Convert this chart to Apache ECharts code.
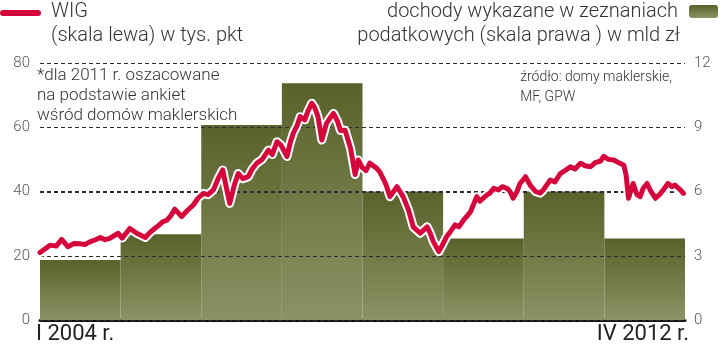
<!DOCTYPE html>
<html>
<head>
<meta charset="utf-8">
<script src="https://cdn.jsdelivr.net/npm/echarts@6/dist/echarts.min.js"></script>
<style>
  html, body { margin: 0; padding: 0; background: #fff; }
  #chart { width: 720px; height: 351px; }
</style>
</head>
<body>
<div id="chart"></div>
<script>
// dochody wykazane w zeznaniach podatkowych, mld zł (2011 szacunek)
const years = ['2004', '2005', '2006', '2007', '2008', '2009', '2010', '2011']
const incomeValues = [2.8, 4.0, 9.1, 11.05, 6.0, 3.8, 6.0, 3.8]

// WIG, tys. pkt (czas w latach dziesiętnych)
const wigTime = [
  2004.00, 2004.13, 2004.21, 2004.28, 2004.36, 2004.44, 2004.52, 2004.58, 2004.65, 2004.71,
  2004.78, 2004.84, 2004.90, 2005.01, 2005.06, 2005.16, 2005.25, 2005.36, 2005.43, 2005.51,
  2005.58, 2005.64, 2005.69, 2005.74, 2005.83, 2005.90, 2005.98, 2006.04, 2006.11, 2006.17,
  2006.24, 2006.30, 2006.36, 2006.40, 2006.45, 2006.51, 2006.56, 2006.62, 2006.69, 2006.74,
  2006.80, 2006.87, 2006.95, 2007.00, 2007.06, 2007.11, 2007.19, 2007.23, 2007.27, 2007.32,
  2007.36, 2007.42, 2007.46, 2007.51, 2007.55, 2007.59, 2007.64, 2007.70, 2007.75, 2007.79,
  2007.84, 2007.88, 2007.94, 2008.01, 2008.07, 2008.11, 2008.16, 2008.21, 2008.26, 2008.35,
  2008.39, 2008.43, 2008.47, 2008.52, 2008.61, 2008.65, 2008.69, 2008.76, 2008.82, 2008.91,
  2009.00, 2009.04, 2009.08, 2009.15, 2009.19, 2009.25, 2009.30, 2009.36, 2009.41, 2009.47,
  2009.52, 2009.56, 2009.64, 2009.68, 2009.77, 2009.81, 2009.86, 2009.92, 2009.97, 2010.03,
  2010.07, 2010.11, 2010.16, 2010.20, 2010.27, 2010.33, 2010.40, 2010.46, 2010.50, 2010.59,
  2010.65, 2010.72, 2010.78, 2010.85, 2010.91, 2010.98, 2011.04, 2011.11, 2011.17, 2011.24,
  2011.28, 2011.34, 2011.41, 2011.47, 2011.54, 2011.57, 2011.60, 2011.66, 2011.71, 2011.75,
  2011.79, 2011.84, 2011.89, 2011.95, 2012.00, 2012.05, 2012.11, 2012.16, 2012.20, 2012.27,
  2012.31
]
const wigValues = [
  21.0, 23.3, 23.0, 25.1, 22.8, 23.8, 23.7, 23.5, 24.4, 24.9,
  25.7, 25.0, 25.4, 27.0, 25.5, 28.5, 27.0, 25.7, 27.5, 29.0,
  30.5, 31.1, 32.5, 34.5, 32.2, 34.0, 35.8, 37.9, 39.4, 39.0,
  40.5, 44.0, 46.7, 42.0, 36.3, 42.0, 45.6, 44.0, 44.6, 47.0,
  48.8, 50.0, 52.9, 51.5, 55.5, 54.5, 50.9, 55.0, 58.1, 60.5,
  63.3, 62.3, 65.0, 67.5, 66.0, 63.3, 56.0, 61.2, 63.0, 64.3,
  62.0, 59.0, 59.1, 53.5, 45.3, 49.8, 47.5, 46.5, 48.8, 47.2,
  46.0, 44.1, 42.0, 38.4, 41.5, 40.0, 38.4, 34.2, 29.0, 27.0,
  29.0, 27.0, 24.4, 21.3, 23.0, 25.9, 27.5, 29.6, 29.0, 31.1,
  32.5, 33.7, 38.4, 37.0, 38.9, 39.5, 41.0, 40.5, 41.5, 41.0,
  40.0, 37.9, 40.0, 42.5, 44.6, 42.0, 40.0, 39.5, 40.5, 43.6,
  43.0, 45.6, 46.5, 47.7, 47.0, 48.8, 48.0, 47.7, 49.0, 49.5,
  50.9, 50.0, 49.8, 49.0, 48.2, 45.0, 37.9, 42.5, 39.0, 38.4,
  41.0, 42.5, 40.0, 37.9, 39.0, 40.5, 42.5, 41.5, 42.0, 40.5,
  39.4
]

const leftTicks = [0, 20, 40, 60, 80]
const rightTicks = [0, 3, 6, 9, 12]
const timeMin = 2004
const timeMax = 2012.33

const FONT = 'Roboto'
const RED = '#d4063c'
const GRID = '#2e2e2e'
const wigData = wigTime.map((t, i) => [t, wigValues[i]])

const barGradient = new echarts.graphic.LinearGradient(0, 0, 0, 1, [
  { offset: 0, color: '#58622a' },
  { offset: 1, color: '#8b9365' }
])

const textGraphics = [
  // legenda WIG
  {
    type: 'line',
    shape: { x1: 3, y1: 13, x2: 38, y2: 13 },
    style: { stroke: RED, lineWidth: 6, lineCap: 'round' }
  },
  {
    type: 'text', left: 51, top: 2,
    style: { text: 'WIG', font: `300 20px ${FONT}`, fill: '#333' }
  },
  {
    type: 'text', left: 51, top: 26,
    style: { text: '(skala lewa) w tys. pkt', font: `300 20px ${FONT}`, fill: '#333' }
  },
  // legenda dochody
  {
    type: 'text', right: 42, top: 2,
    style: { text: 'dochody wykazane w zeznaniach', font: `300 20px ${FONT}`, fill: '#333', align: 'right' }
  },
  {
    type: 'text', right: 40, top: 26,
    style: { text: 'podatkowych (skala prawa ) w mld zł', font: `300 20px ${FONT}`, fill: '#333', align: 'right' }
  },
  {
    type: 'rect',
    shape: { x: 689, y: 5, width: 29, height: 13, r: 3 },
    style: { fill: barGradient }
  },
  // przypisy
  {
    type: 'text', left: 37, top: 66,
    style: {
      text: '*dla 2011 r. oszacowane\nna podstawie ankiet\nwśród domów maklerskich',
      font: `300 17px ${FONT}`, fill: '#333', lineHeight: 20
    }
  },
  {
    type: 'text', right: 48, top: 67,
    style: {
      text: 'źródło: domy maklerskie,\nMF, GPW',
      font: `300 14px ${FONT}`, fill: '#333', lineHeight: 20, align: 'right'
    }
  },
  // oś czasu
  {
    type: 'text', left: 36, top: 323,
    style: { text: 'I 2004 r.', font: `400 22px ${FONT}`, fill: '#222' }
  },
  {
    type: 'text', right: 31, top: 323,
    style: { text: 'IV 2012 r.', font: `400 22px ${FONT}`, fill: '#222', align: 'right' }
  }
]

const chart = echarts.init(document.getElementById('chart'), null, { renderer: 'canvas' })

chart.setOption({
  animation: false,
  grid: { left: 40, right: 35, top: 63, bottom: 31 },
  xAxis: [
    {
      type: 'category',
      data: years,
      boundaryGap: true,
      axisLine: { show: true, lineStyle: { color: '#111', width: 3 } },
      axisTick: { show: false },
      axisLabel: { show: false }
    },
    {
      type: 'value',
      min: timeMin,
      max: timeMax,
      show: false
    }
  ],
  yAxis: [
    {
      type: 'value',
      min: 0,
      max: 80,
      interval: 20,
      z: 3,
      axisLine: { show: false },
      axisTick: { show: false },
      axisLabel: {
        margin: 10,
        color: '#555',
        fontFamily: FONT,
        fontWeight: 300,
        fontSize: 15,
        formatter: v => (leftTicks.includes(v) ? String(v) : '')
      },
      splitLine: { show: true, lineStyle: { color: GRID, type: [4, 3], width: 1 } }
    },
    {
      type: 'value',
      min: 0,
      max: 12,
      interval: 3,
      position: 'right',
      axisLine: { show: false },
      axisTick: { show: false },
      axisLabel: {
        margin: 9,
        color: '#555',
        fontFamily: FONT,
        fontWeight: 300,
        fontSize: 15,
        formatter: v => (rightTicks.includes(v) ? String(v) : '')
      },
      splitLine: { show: false }
    }
  ],
  series: [
    {
      name: 'dochody',
      type: 'bar',
      xAxisIndex: 0,
      yAxisIndex: 1,
      data: incomeValues,
      barWidth: '100%',
      z: 2,
      itemStyle: { color: barGradient }
    },
    {
      name: 'WIG halo',
      type: 'line',
      xAxisIndex: 1,
      yAxisIndex: 0,
      data: wigData,
      showSymbol: false,
      z: 5,
      lineStyle: { color: '#fff', width: 9, join: 'round', cap: 'round' }
    },
    {
      name: 'WIG',
      type: 'line',
      xAxisIndex: 1,
      yAxisIndex: 0,
      data: wigData,
      showSymbol: false,
      z: 6,
      lineStyle: { color: RED, width: 5, join: 'round', cap: 'round' }
    }
  ],
  graphic: textGraphics
})

// przerywane linie siatki nad słupkami, liczone ze skal osi
const gx1 = chart.convertToPixel({ xAxisIndex: 1 }, timeMin)
const gx2 = chart.convertToPixel({ xAxisIndex: 1 }, timeMax)
const gridGraphics = leftTicks.filter(v => v > 0).map(v => {
  const y = Math.round(chart.convertToPixel({ yAxisIndex: 0 }, v)) + 0.5
  return {
    type: 'line',
    silent: true,
    z: 4,
    shape: { x1: gx1, y1: y, x2: gx2, y2: y },
    style: { stroke: GRID, lineWidth: 1, lineDash: [4, 3] }
  }
})

chart.setOption({ graphic: textGraphics.concat(gridGraphics) })
</script>
</body>
</html>
